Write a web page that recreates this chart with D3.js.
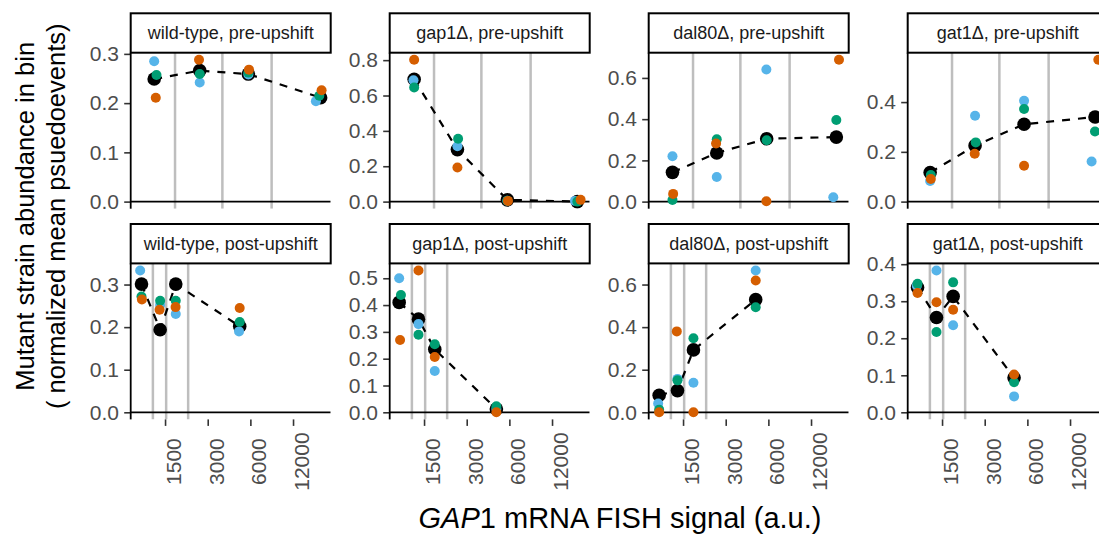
<!DOCTYPE html>
<html>
<head>
<meta charset="utf-8">
<script src="https://cdn.jsdelivr.net/npm/d3@7"></script>
<style>
  html, body { margin: 0; padding: 0; background: #fff; overflow: hidden; }
  svg { display: block; font-family: "Liberation Sans", Arial, Helvetica, sans-serif; }
</style>
</head>
<body>
<svg id="chart" width="1099" height="536"></svg>
<script>
// Facet labels
const strains = ["wild-type", "gap1Δ", "dal80Δ", "gat1Δ"];
const phases = ["pre-upshift", "post-upshift"];

// GAP1 signal bin boundaries (grey rules), one set per phase
const binEdges = [
  [1764, 3807, 8474],
  [1231, 1527, 2183]
];

// Axis ticks
const xTickValues = [1500, 3000, 6000, 12000];
const yTickValues = [
  [0, 0.1, 0.2, 0.3],
  [0, 0.2, 0.4, 0.6, 0.8],
  [0, 0.2, 0.4, 0.6],
  [0, 0.2, 0.4],
  [0, 0.1, 0.2, 0.3],
  [0, 0.1, 0.2, 0.3, 0.4, 0.5],
  [0, 0.2, 0.4, 0.6],
  [0, 0.1, 0.2, 0.3, 0.4]
];

// Panels in order: wt pre, gap1 pre, dal80 pre, gat1 pre, wt post, gap1 post, dal80 post, gat1 post
// Pooled bin summary (black)
const meanX = [
  [1257, 2635, 5808, 18780],
  [1277, 2580, 5808, 18100],
  [1263, 2594, 5837, 18100],
  [1236, 2565, 5687, 18000],
  [1023, 1385, 1785, 5045],
  [1001, 1370, 1785, 4858],
  [1017, 1370, 1776, 4884],
  [1007, 1370, 1796, 4834]
];
const meanY = [
  [0.249, 0.266, 0.259, 0.211],
  [0.692, 0.294, 0.010, 0.000],
  [0.142, 0.236, 0.305, 0.313],
  [0.117, 0.225, 0.311, 0.340],
  [0.301, 0.194, 0.301, 0.202],
  [0.410, 0.3475, 0.235, 0.0125],
  [0.080, 0.102, 0.293, 0.529],
  [0.337, 0.256, 0.313, 0.093]
];

// Replicate 1 (blue)
const rep1X = [
  [1257, 2635, 5808, 17400],
  [1263, 2580, 5808, 17430],
  [1263, 2594, 5808, 17230],
  [1236, 2565, 5687, 17040],
  [1001, 1385, 1785, 4990],
  [1001, 1370, 1785, 4858],
  [1001, 1370, 1776, 4884],
  [995, 1370, 1796, 4834]
];
const rep1Y = [
  [0.285, 0.242, 0.258, 0.204],
  [0.686, 0.313, 0.005, 0.004],
  [0.220, 0.119, 0.641, 0.021],
  [0.083, 0.345, 0.405, 0.161],
  [0.333, 0.252, 0.231, 0.190],
  [0.500, 0.329, 0.154, 0.012],
  [0.041, 0.157, 0.139, 0.666],
  [0.342, 0.383, 0.235, 0.043]
];

// Replicate 2 (green)
const rep2X = [
  [1305, 2635, 5808, 18390],
  [1277, 2608, 5808, 18100],
  [1263, 2594, 5837, 18100],
  [1250, 2594, 5687, 18000],
  [1023, 1385, 1785, 5045],
  [1030, 1370, 1785, 4858],
  [1017, 1370, 1776, 4884],
  [1007, 1370, 1796, 4834]
];
const rep2Y = [
  [0.257, 0.259, 0.262, 0.215],
  [0.645, 0.355, 0.005, 0.000],
  [0.008, 0.302, 0.298, 0.396],
  [0.107, 0.238, 0.372, 0.282],
  [0.272, 0.262, 0.262, 0.212],
  [0.4375, 0.289, 0.254, 0.0225],
  [0.0126, 0.150, 0.348, 0.493],
  [0.347, 0.217, 0.351, 0.081]
];

// Replicate 3 (orange)
const rep3X = [
  [1290, 2605, 5865, 19090],
  [1277, 2580, 5865, 19090],
  [1277, 2565, 5808, 18900],
  [1250, 2550, 5687, 19000],
  [1030, 1372, 1780, 5045],
  [1016, 1370, 1785, 4858],
  [1017, 1355, 1776, 4884],
  [1007, 1370, 1796, 4834]
];
const rep3Y = [
  [0.211, 0.288, 0.268, 0.226],
  [0.802, 0.193, 0.004, 0.010],
  [0.0375, 0.282, 0.0016, 0.688],
  [0.091, 0.192, 0.144, 0.570],
  [0.265, 0.241, 0.247, 0.245],
  [0.270, 0.529, 0.206, 0.000],
  [0.000, 0.380, 0.000, 0.619],
  [0.322, 0.297, 0.277, 0.102]
];

const repColors = ["#56B4E9", "#009E73", "#D55E00"];

// ---- layout ----
const firstLeft = 130.7, colStep = 259, panelW = 200;
const firstStripTop = 13.3, rowStep = 210.7, stripH = 39.4, panelH = 156;
const tickFont = 21, tickColor = "#4d4d4d";

const svg = d3.select("#chart");

// Shared log2 x scale with 5% padding on the log range
const allX = [meanX, rep1X, rep2X, rep3X].flat(2).concat(binEdges.flat());
const lo = Math.log2(d3.min(allX)), hi = Math.log2(d3.max(allX));
const pad = 0.05 * (hi - lo);
const x = d3.scaleLog().base(2)
  .domain([Math.pow(2, lo - pad), Math.pow(2, hi + pad)])
  .range([0, panelW]);

const reps = [[rep1X, rep1Y], [rep2X, rep2Y], [rep3X, rep3Y]];

for (let p = 0; p < 8; p++) {
  const row = Math.floor(p / 4), col = p % 4;
  const left = firstLeft + col * colStep;
  const stripTop = firstStripTop + row * rowStep;
  const top = stripTop + stripH;

  const ys = [meanY[p], rep1Y[p], rep2Y[p], rep3Y[p]].flat();
  const yMax = d3.max(ys);
  const y = d3.scaleLinear()
    .domain([-0.05 * yMax, 1.05 * yMax])
    .range([panelH, 0]);

  const g = svg.append("g").attr("transform", `translate(${left},${top})`);

  const clipId = `clip-${p}`;
  g.append("clipPath").attr("id", clipId)
    .append("rect").attr("width", panelW).attr("height", panelH);

  const body = g.append("g").attr("clip-path", `url(#${clipId})`);

  // bin boundaries
  body.selectAll("line.edge").data(binEdges[row]).enter().append("line")
    .attr("x1", d => x(d)).attr("x2", d => x(d))
    .attr("y1", 0).attr("y2", panelH)
    .attr("stroke", "#bebebe").attr("stroke-width", 2.5);

  // zero reference
  body.append("line")
    .attr("x1", 0).attr("x2", panelW)
    .attr("y1", y(0)).attr("y2", y(0))
    .attr("stroke", "#000").attr("stroke-width", 1.8);

  const pts = meanX[p].map((v, i) => [v, meanY[p][i]]);

  // dashed trend through the pooled values
  body.append("path")
    .attr("d", d3.line().x(d => x(d[0])).y(d => y(d[1]))(pts))
    .attr("fill", "none").attr("stroke", "#000")
    .attr("stroke-width", 2.2).attr("stroke-dasharray", "8,8");

  body.selectAll("circle.mean").data(pts).enter().append("circle")
    .attr("cx", d => x(d[0])).attr("cy", d => y(d[1]))
    .attr("r", 6.8).attr("fill", "#000");

  reps.forEach(([rx, ry], k) => {
    const rp = rx[p].map((v, i) => [v, ry[p][i]]);
    body.selectAll(`circle.rep${k}`).data(rp).enter().append("circle")
      .attr("cx", d => x(d[0])).attr("cy", d => y(d[1]))
      .attr("r", 5).attr("fill", repColors[k]);
  });

  // y axis
  const yAxis = g.append("g")
    .call(d3.axisLeft(y).tickValues(yTickValues[p]).tickSize(6.5).tickPadding(5.2)
      .tickFormat(d3.format(".1f")));
  yAxis.select(".domain").remove();
  yAxis.selectAll(".tick line").attr("stroke", "#333").attr("stroke-width", 1.6);
  yAxis.selectAll(".tick text").attr("fill", tickColor)
    .style("font-size", tickFont + "px").style("font-family", "inherit");
  g.append("line")
    .attr("x1", 0).attr("x2", 0).attr("y1", 0).attr("y2", panelH)
    .attr("stroke", "#000").attr("stroke-width", 1.8);

  // x axis on the lower row only
  if (row === 1) {
    const xAxis = g.append("g").attr("transform", `translate(0,${panelH})`)
      .call(d3.axisBottom(x).tickValues(xTickValues).tickSize(6.5).tickFormat(d3.format("d")));
    xAxis.select(".domain").remove();
    xAxis.selectAll(".tick line").attr("stroke", "#333").attr("stroke-width", 1.6);
    xAxis.selectAll(".tick text")
      .attr("transform", "rotate(-90)")
      .attr("x", -42.2).attr("y", 15.5).attr("dy", 0)
      .attr("text-anchor", "middle")
      .attr("fill", tickColor)
      .style("font-size", tickFont + "px").style("font-family", "inherit");
  }

  // facet strip
  svg.append("rect")
    .attr("x", left).attr("y", stripTop)
    .attr("width", panelW).attr("height", stripH)
    .attr("fill", "#fff").attr("stroke", "#000").attr("stroke-width", 2);
  svg.append("text")
    .attr("x", left + panelW / 2).attr("y", stripTop + stripH / 2)
    .attr("dy", "0.35em").attr("text-anchor", "middle")
    .attr("fill", "#1a1a1a").style("font-size", "18px")
    .text(`${strains[col]}, ${phases[row]}`);
}

// axis titles
const xTitle = svg.append("text")
  .attr("x", 620).attr("y", 528)
  .attr("text-anchor", "middle").attr("fill", "#000")
  .style("font-size", "29px");
xTitle.append("tspan").style("font-style", "italic").text("GAP");
xTitle.append("tspan").text("1 mRNA FISH signal (a.u.)");

const yTitle = svg.append("text")
  .attr("transform", "translate(34,216.3) rotate(-90)")
  .attr("text-anchor", "middle").attr("fill", "#000")
  .style("font-size", "25.5px");
yTitle.append("tspan").attr("x", 0).attr("dy", 0).text("Mutant strain abundance in bin");
yTitle.append("tspan").attr("x", 0).attr("dy", 31).text("( normalized mean psuedoevents)");
</script>
</body>
</html>
